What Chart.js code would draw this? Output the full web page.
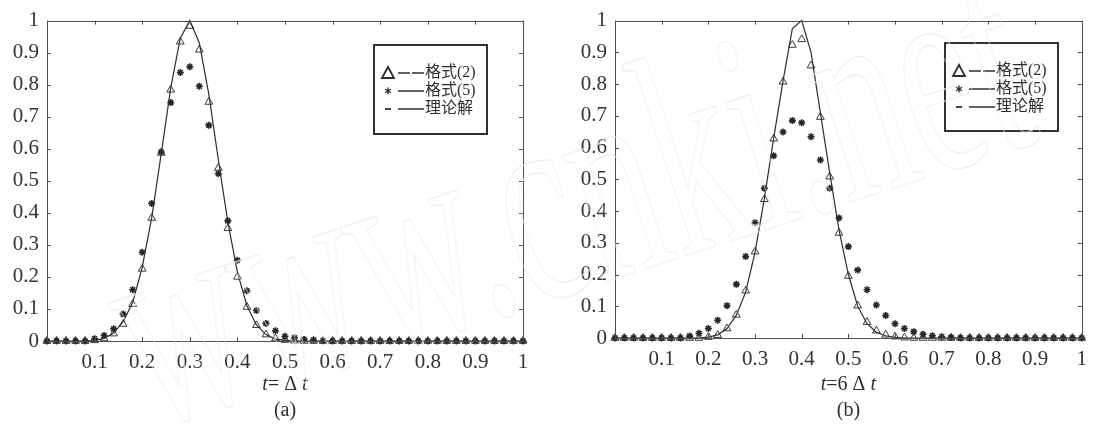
<!DOCTYPE html>
<html>
<head>
<meta charset="utf-8">
<script src="https://cdn.jsdelivr.net/npm/chart.js@4.4.1/dist/chart.umd.min.js"></script>
<style>
  html, body { margin: 0; padding: 0; background: #fff; }
  .panel { position: absolute; top: 0; width: 548px; height: 434px; }
  #panelA { left: 0; }
  #panelB { left: 548px; }
  #mark {
    position: absolute; left: 74px; top: 200px;
    font: 290px 'Liberation Serif', serif; line-height: 1; white-space: nowrap;
    color: transparent; -webkit-text-stroke: 1.2px #ebebeb;
    transform-origin: 0 0; transform: rotate(-18deg) scale(0.585, 1);
    pointer-events: none;
  }
</style>
</head>
<body>
<div class="panel" id="panelA"><canvas id="chartA" width="548" height="434"></canvas></div>
<div class="panel" id="panelB"><canvas id="chartB" width="548" height="434"></canvas></div>
<div id="mark">www.cnki.net</div>
<script>
const tValues = [
  0, 0.02, 0.04, 0.06, 0.08, 0.1, 0.12, 0.14, 0.16, 0.18,
  0.2, 0.22, 0.24, 0.26, 0.28, 0.3, 0.32, 0.34, 0.36, 0.38,
  0.4, 0.42, 0.44, 0.46, 0.48, 0.5, 0.52, 0.54, 0.56, 0.58,
  0.6, 0.62, 0.64, 0.66, 0.68, 0.7, 0.72, 0.74, 0.76, 0.78,
  0.8, 0.82, 0.84, 0.86, 0.88, 0.9, 0.92, 0.94, 0.96, 0.98, 1
];

const xTickLabels = ["", "0.1", "0.2", "0.3", "0.4", "0.5", "0.6", "0.7", "0.8", "0.9", "1"];
const yTickLabels = ["0", "0.1", "0.2", "0.3", "0.4", "0.5", "0.6", "0.7", "0.8", "0.9", "1"];
const legendLabels = ["格式(2)", "格式(5)", "理论解"];

// panel (a): t = Δt
const scheme2A = [
  0, 0, 0, 0, 0, 0.002, 0.008, 0.023, 0.053, 0.115,
  0.225, 0.384, 0.587, 0.784, 0.934, 0.983, 0.909, 0.746, 0.54, 0.352,
  0.2, 0.106, 0.049, 0.02, 0.008, 0.003, 0.001, 0, 0, 0,
  0, 0, 0, 0, 0, 0, 0, 0, 0, 0,
  0, 0, 0, 0, 0, 0, 0, 0, 0, 0, 0
];
const scheme5A = [
  0, 0, 0, 0, 0, 0.007, 0.017, 0.038, 0.084, 0.16,
  0.277, 0.429, 0.59, 0.744, 0.838, 0.856, 0.795, 0.673, 0.522, 0.375,
  0.252, 0.157, 0.095, 0.055, 0.032, 0.015, 0.01, 0.005, 0.003, 0.001,
  0, 0, 0, 0, 0, 0, 0, 0, 0, 0,
  0, 0, 0, 0, 0, 0, 0, 0, 0, 0, 0
];
const exactA = [
  0, 0, 0, 0, 0, 0.002, 0.008, 0.025, 0.06, 0.12,
  0.23, 0.385, 0.585, 0.79, 0.945, 1, 0.93, 0.77, 0.565, 0.37,
  0.215, 0.11, 0.05, 0.02, 0.006, 0.002, 0, 0, 0, 0,
  0, 0, 0, 0, 0, 0, 0, 0, 0, 0,
  0, 0, 0, 0, 0, 0, 0, 0, 0, 0, 0
];

// panel (b): t = 6Δt
const scheme2B = [
  0, 0, 0, 0, 0, 0, 0, 0, 0, 0,
  0.003, 0.009, 0.03, 0.073, 0.149, 0.272, 0.437, 0.628, 0.807, 0.923,
  0.941, 0.858, 0.696, 0.508, 0.331, 0.195, 0.102, 0.05, 0.023, 0.01,
  0.004, 0.001, 0, 0, 0, 0, 0, 0, 0, 0,
  0, 0, 0, 0, 0, 0, 0, 0, 0, 0, 0
];
const scheme5B = [
  0, 0, 0, 0, 0, 0, 0, 0, 0.006, 0.015,
  0.03, 0.056, 0.102, 0.169, 0.257, 0.363, 0.472, 0.574, 0.649, 0.685,
  0.678, 0.634, 0.561, 0.472, 0.378, 0.288, 0.214, 0.152, 0.104, 0.071,
  0.045, 0.03, 0.02, 0.012, 0.007, 0.004, 0.002, 0, 0, 0,
  0, 0, 0, 0, 0, 0, 0, 0, 0, 0, 0
];
const exactB = [
  0, 0, 0, 0, 0, 0, 0, 0, 0, 0,
  0.003, 0.01, 0.03, 0.072, 0.145, 0.27, 0.44, 0.63, 0.81, 0.975,
  1, 0.9, 0.71, 0.52, 0.34, 0.2, 0.1, 0.045, 0.018, 0.007,
  0.002, 0, 0, 0, 0, 0, 0, 0, 0, 0,
  0, 0, 0, 0, 0, 0, 0, 0, 0, 0, 0
];

const titleA = [["t", true], ["= Δ ", false], ["t", true]];
const titleB = [["t", true], ["=6 Δ ", false], ["t", true]];

const SERIF = "'Liberation Serif', 'DejaVu Serif', serif";
const INK = "#2e2e2e";

function toPoints(values) {
  return tValues.map((t, i) => ({ x: t, y: values[i] }));
}

// MATLAB-like frame with inward ticks on all four sides, legend box and x caption
const matlabFrame = {
  id: "matlabFrame",
  afterDraw(chart, args, opts) {
    const { ctx, chartArea: a } = chart;
    const x = chart.scales.x;
    const y = chart.scales.y;

    ctx.save();
    ctx.strokeStyle = "#505050";
    ctx.lineWidth = 1;
    ctx.strokeRect(Math.round(a.left) + 0.5, Math.round(a.top) + 0.5,
      Math.round(a.right - a.left), Math.round(a.bottom - a.top));

    ctx.beginPath();
    x.ticks.forEach(t => {
      const px = Math.round(x.getPixelForValue(t.value)) + 0.5;
      ctx.moveTo(px, a.bottom); ctx.lineTo(px, a.bottom - 4);
      ctx.moveTo(px, a.top); ctx.lineTo(px, a.top + 4);
    });
    y.ticks.forEach(t => {
      const py = Math.round(y.getPixelForValue(t.value)) + 0.5;
      ctx.moveTo(a.left, py); ctx.lineTo(a.left + 4, py);
      ctx.moveTo(a.right, py); ctx.lineTo(a.right - 4, py);
    });
    ctx.stroke();

    // legend
    const L = opts.legend;
    ctx.fillStyle = "#fff";
    ctx.fillRect(L.x, L.y, L.w, L.h);
    ctx.strokeStyle = "#303030";
    ctx.lineWidth = 2;
    ctx.strokeRect(L.x, L.y, L.w, L.h);

    const rows = [28, 46, 64];
    ctx.strokeStyle = INK;
    ctx.fillStyle = INK;
    rows.forEach((dy, i) => {
      const ry = L.y + dy;
      const mx = L.x + 14;
      ctx.lineWidth = 1.8;
      ctx.setLineDash([]);
      ctx.beginPath();
      if (i === 0) {
        ctx.moveTo(mx - 6, ry + 5); ctx.lineTo(mx, ry - 6); ctx.lineTo(mx + 6, ry + 5); ctx.closePath();
      } else if (i === 1) {
        ctx.lineWidth = 1.4;
        for (let k = 0; k < 3; k++) {
          const ang = k * Math.PI / 3 + Math.PI / 2;
          ctx.moveTo(mx - 3.5 * Math.cos(ang), ry - 3.5 * Math.sin(ang));
          ctx.lineTo(mx + 3.5 * Math.cos(ang), ry + 3.5 * Math.sin(ang));
        }
      } else {
        ctx.moveTo(mx - 3, ry); ctx.lineTo(mx + 3, ry);
      }
      ctx.stroke();

      ctx.lineWidth = 1.5;
      ctx.setLineDash(i === 0 ? [12, 2] : []);
      ctx.beginPath();
      ctx.moveTo(L.x + 24, ry); ctx.lineTo(L.x + 50, ry);
      ctx.stroke();
      ctx.setLineDash([]);

      ctx.font = "16px " + SERIF + ", 'Noto Sans CJK SC'";
      ctx.textAlign = "left";
      ctx.textBaseline = "middle";
      ctx.fillText(legendLabels[i], L.x + 51, ry);
    });

    // x caption with italic t, and panel label
    const cx = (a.left + a.right) / 2;
    const parts = opts.title.map(([txt, it]) => {
      ctx.font = (it ? "italic " : "") + "20px " + SERIF;
      return { txt, font: ctx.font, w: ctx.measureText(txt).width };
    });
    let px = cx - parts.reduce((s, p) => s + p.w, 0) / 2;
    ctx.textBaseline = "middle";
    ctx.textAlign = "left";
    parts.forEach(p => {
      ctx.font = p.font;
      ctx.fillText(p.txt, px, opts.titleY);
      px += p.w;
    });
    ctx.font = "20px " + SERIF;
    ctx.textAlign = "center";
    ctx.fillText(opts.label, cx, opts.labelY);
    ctx.restore();
  }
};

function makePanel(canvasId, s2, s5, exact, padding, frame) {
  const ctx = document.getElementById(canvasId);
  return new Chart(ctx, {
    type: "line",
    data: {
      datasets: [
        {
          label: legendLabels[2],
          data: toPoints(exact),
          borderColor: INK,
          borderWidth: 1.2,
          pointRadius: 0,
          tension: 0,
          order: 0,
          clip: false
        },
        {
          label: legendLabels[0],
          data: toPoints(s2),
          showLine: false,
          pointStyle: "triangle",
          pointRadius: 4.5,
          pointBackgroundColor: "#fff",
          pointBorderColor: "#3a3a3a",
          pointBorderWidth: 1,
          order: 2,
          clip: false
        },
        {
          label: legendLabels[1],
          data: toPoints(s5),
          showLine: false,
          pointStyle: "star",
          pointRadius: 3.5,
          pointBorderColor: "#262626",
          pointBorderWidth: 1.6,
          order: 1,
          clip: false
        }
      ]
    },
    options: {
      responsive: false,
      animation: false,
      layout: { padding: padding },
      plugins: {
        legend: { display: false },
        tooltip: { enabled: false },
        matlabFrame: frame
      },
      scales: {
        x: {
          type: "linear",
          min: 0,
          max: 1,
          grid: { display: false, drawTicks: false },
          border: { display: false },
          ticks: {
            stepSize: 0.1,
            autoSkip: false,
            maxRotation: 0,
            padding: 9,
            color: "#333",
            font: { family: SERIF, size: 21 },
            callback: (v, i) => xTickLabels[i]
          },
          afterFit: s => { s.height = 30; }
        },
        y: {
          type: "linear",
          min: 0,
          max: 1,
          grid: { display: false, drawTicks: false },
          border: { display: false },
          ticks: {
            stepSize: 0.1,
            padding: 8,
            color: "#333",
            font: { family: SERIF, size: 21 },
            callback: (v, i) => yTickLabels[i]
          },
          afterFit: s => { s.width = 47; }
        }
      }
    },
    plugins: [matlabFrame]
  });
}

makePanel("chartA", scheme2A, scheme5A, exactA,
  { left: 0, top: 16, right: 25, bottom: 63 },
  { legend: { x: 374, y: 45, w: 113, h: 89 }, title: titleA, titleY: 385, label: "(a)", labelY: 411 });

makePanel("chartB", scheme2B, scheme5B, exactB,
  { left: 20, top: 15, right: 8, bottom: 66 },
  { legend: { x: 397, y: 43, w: 113, h: 88 }, title: titleB, titleY: 385, label: "(b)", labelY: 411 });
</script>
</body>
</html>
